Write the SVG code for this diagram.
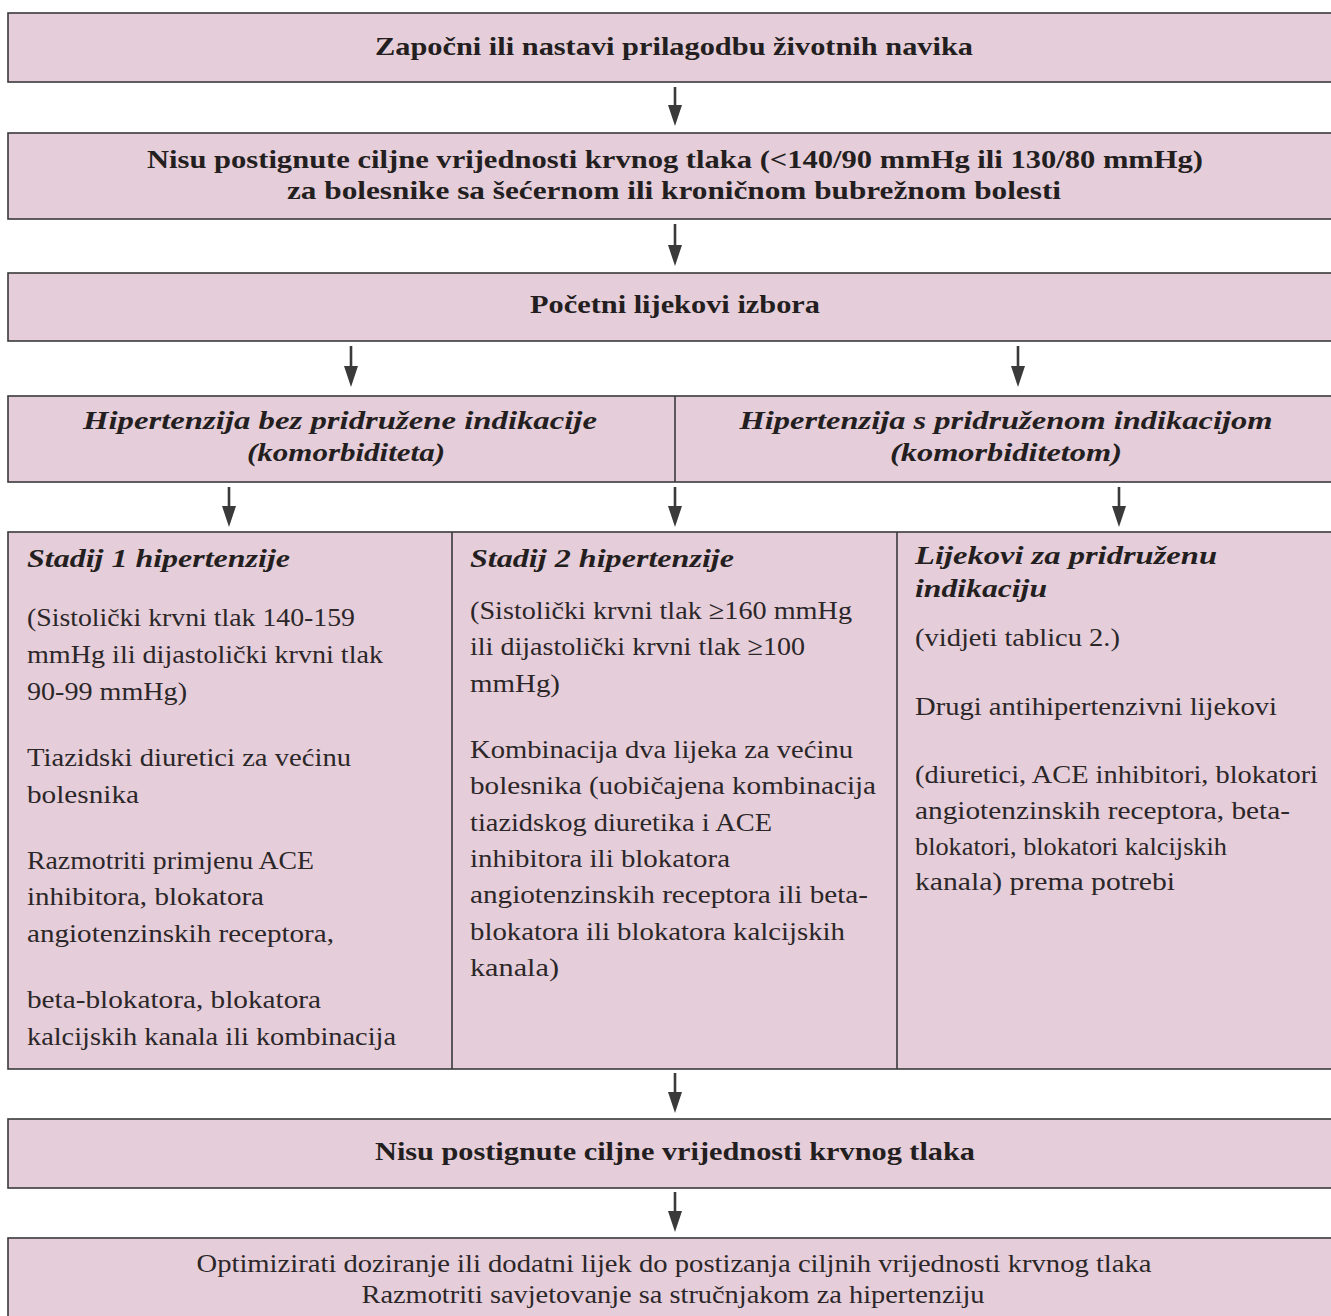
<svg xmlns="http://www.w3.org/2000/svg" width="1331" height="1316" viewBox="0 0 1331 1316">
<style>
.box{fill:#e6cdda;stroke:#3a3a3a;stroke-width:1.6}
.div{stroke:#3a3a3a;stroke-width:1.6;fill:none}
.arr{stroke:#3a3a3a;stroke-width:2.6;fill:none}
.ah{fill:#3a3a3a}
text{font-family:"Liberation Serif","Times New Roman",serif;fill:#231f20}
.h{font-size:25px;font-weight:bold;text-anchor:middle}
.hi{font-size:25px;font-weight:bold;font-style:italic}
.hic{font-size:25px;font-weight:bold;font-style:italic;text-anchor:middle}
.b{font-size:26px;fill:#2b2728}
.bc{font-size:26px;text-anchor:middle;fill:#2b2728}
</style>
<g id="connectors">
<path class="arr" d="M675,87 V110"/><path class="ah" d="M668,105 L675,126 L682,105 Z"/>
<path class="arr" d="M675,224 V250"/><path class="ah" d="M668,245 L675,266 L682,245 Z"/>
<path class="arr" d="M351,346 V370"/><path class="ah" d="M344,366 L351,387 L358,366 Z"/>
<path class="arr" d="M1018,346 V370"/><path class="ah" d="M1011,366 L1018,387 L1025,366 Z"/>
<path class="arr" d="M229,487 V510"/><path class="ah" d="M222,506 L229,527 L236,506 Z"/>
<path class="arr" d="M675,487 V510"/><path class="ah" d="M668,506 L675,527 L682,506 Z"/>
<path class="arr" d="M1119,487 V510"/><path class="ah" d="M1112,506 L1119,527 L1126,506 Z"/>
<path class="arr" d="M675,1073 V1096"/><path class="ah" d="M668,1092 L675,1113 L682,1092 Z"/>
<path class="arr" d="M675,1192 V1215"/><path class="ah" d="M668,1211 L675,1232 L682,1211 Z"/>
</g>
<g id="n1">
<rect class="box" x="8" y="13" width="1330" height="69"/>
<text class="h" x="674" y="55" textLength="598" lengthAdjust="spacingAndGlyphs">Započni ili nastavi prilagodbu životnih navika</text>
</g>
<g id="n2">
<rect class="box" x="8" y="133" width="1330" height="86"/>
<text class="h" x="675" y="168" textLength="1056" lengthAdjust="spacingAndGlyphs">Nisu postignute ciljne vrijednosti krvnog tlaka (&lt;140/90 mmHg ili 130/80 mmHg)</text>
<text class="h" x="674" y="199" textLength="774" lengthAdjust="spacingAndGlyphs">za bolesnike sa šećernom ili kroničnom bubrežnom bolesti</text>
</g>
<g id="n3">
<rect class="box" x="8" y="273" width="1330" height="68"/>
<text class="h" x="675" y="313" textLength="290" lengthAdjust="spacingAndGlyphs">Početni lijekovi izbora</text>
</g>
<g id="n4">
<rect class="box" x="8" y="396" width="1330" height="86"/>
<path class="div" d="M675,396 V482"/>
<text class="hic" x="340" y="429" textLength="514" lengthAdjust="spacingAndGlyphs">Hipertenzija bez pridružene indikacije</text>
<text class="hic" x="346" y="461" textLength="198" lengthAdjust="spacingAndGlyphs">(komorbiditeta)</text>
<text class="hic" x="1006" y="429" textLength="533" lengthAdjust="spacingAndGlyphs">Hipertenzija s pridruženom indikacijom</text>
<text class="hic" x="1006" y="461" textLength="232" lengthAdjust="spacingAndGlyphs">(komorbiditetom)</text>
</g>
<g id="n5">
<rect class="box" x="8" y="532" width="1330" height="537"/>
<path class="div" d="M452,532 V1069 M897,532 V1069"/>
<text class="hi" x="27" y="567" textLength="263" lengthAdjust="spacingAndGlyphs">Stadij 1 hipertenzije</text>
<text class="b" x="27" y="626" textLength="328" lengthAdjust="spacingAndGlyphs">(Sistolički krvni tlak 140-159</text>
<text class="b" x="27" y="663" textLength="356" lengthAdjust="spacingAndGlyphs">mmHg ili dijastolički krvni tlak</text>
<text class="b" x="27" y="700" textLength="160" lengthAdjust="spacingAndGlyphs">90-99 mmHg)</text>
<text class="b" x="27" y="766" textLength="324" lengthAdjust="spacingAndGlyphs">Tiazidski diuretici za većinu</text>
<text class="b" x="27" y="803" textLength="112" lengthAdjust="spacingAndGlyphs">bolesnika</text>
<text class="b" x="27" y="869" textLength="287" lengthAdjust="spacingAndGlyphs">Razmotriti primjenu ACE</text>
<text class="b" x="27" y="905" textLength="237" lengthAdjust="spacingAndGlyphs">inhibitora, blokatora</text>
<text class="b" x="27" y="942" textLength="307" lengthAdjust="spacingAndGlyphs">angiotenzinskih receptora,</text>
<text class="b" x="27" y="1008" textLength="294" lengthAdjust="spacingAndGlyphs">beta-blokatora, blokatora</text>
<text class="b" x="27" y="1045" textLength="369" lengthAdjust="spacingAndGlyphs">kalcijskih kanala ili kombinacija</text>
</g>
<g id="n6">
<text class="hi" x="470" y="567" textLength="264" lengthAdjust="spacingAndGlyphs">Stadij 2 hipertenzije</text>
<text class="b" x="470" y="619" textLength="382" lengthAdjust="spacingAndGlyphs">(Sistolički krvni tlak ≥160 mmHg</text>
<text class="b" x="470" y="655" textLength="335" lengthAdjust="spacingAndGlyphs">ili dijastolički krvni tlak ≥100</text>
<text class="b" x="470" y="692" textLength="90" lengthAdjust="spacingAndGlyphs">mmHg)</text>
<text class="b" x="470" y="758" textLength="383" lengthAdjust="spacingAndGlyphs">Kombinacija dva lijeka za većinu</text>
<text class="b" x="470" y="794" textLength="406" lengthAdjust="spacingAndGlyphs">bolesnika (uobičajena kombinacija</text>
<text class="b" x="470" y="831" textLength="302" lengthAdjust="spacingAndGlyphs">tiazidskog diuretika i ACE</text>
<text class="b" x="470" y="867" textLength="260" lengthAdjust="spacingAndGlyphs">inhibitora ili blokatora</text>
<text class="b" x="470" y="903" textLength="398" lengthAdjust="spacingAndGlyphs">angiotenzinskih receptora ili beta-</text>
<text class="b" x="470" y="940" textLength="375" lengthAdjust="spacingAndGlyphs">blokatora ili blokatora kalcijskih</text>
<text class="b" x="470" y="976" textLength="89" lengthAdjust="spacingAndGlyphs">kanala)</text>
</g>
<g id="n7">
<text class="hi" x="915" y="564" textLength="302" lengthAdjust="spacingAndGlyphs">Lijekovi za pridruženu</text>
<text class="hi" x="915" y="597" textLength="132" lengthAdjust="spacingAndGlyphs">indikaciju</text>
<text class="b" x="915" y="646" textLength="205" lengthAdjust="spacingAndGlyphs">(vidjeti tablicu 2.)</text>
<text class="b" x="915" y="715" textLength="362" lengthAdjust="spacingAndGlyphs">Drugi antihipertenzivni lijekovi</text>
<text class="b" x="915" y="783" textLength="403" lengthAdjust="spacingAndGlyphs">(diuretici, ACE inhibitori, blokatori</text>
<text class="b" x="915" y="819" textLength="375" lengthAdjust="spacingAndGlyphs">angiotenzinskih receptora, beta-</text>
<text class="b" x="915" y="855" textLength="312" lengthAdjust="spacingAndGlyphs">blokatori, blokatori kalcijskih</text>
<text class="b" x="915" y="890" textLength="260" lengthAdjust="spacingAndGlyphs">kanala) prema potrebi</text>
</g>
<g id="n8">
<rect class="box" x="8" y="1119" width="1330" height="69"/>
<text class="h" x="675" y="1160" textLength="600" lengthAdjust="spacingAndGlyphs">Nisu postignute ciljne vrijednosti krvnog tlaka</text>
</g>
<g id="n9">
<rect class="box" x="8" y="1238" width="1330" height="90"/>
<text class="bc" x="674" y="1272" textLength="955" lengthAdjust="spacingAndGlyphs">Optimizirati doziranje ili dodatni lijek do postizanja ciljnih vrijednosti krvnog tlaka</text>
<text class="bc" x="673" y="1303" textLength="623" lengthAdjust="spacingAndGlyphs">Razmotriti savjetovanje sa stručnjakom za hipertenziju</text>
</g>
</svg>
